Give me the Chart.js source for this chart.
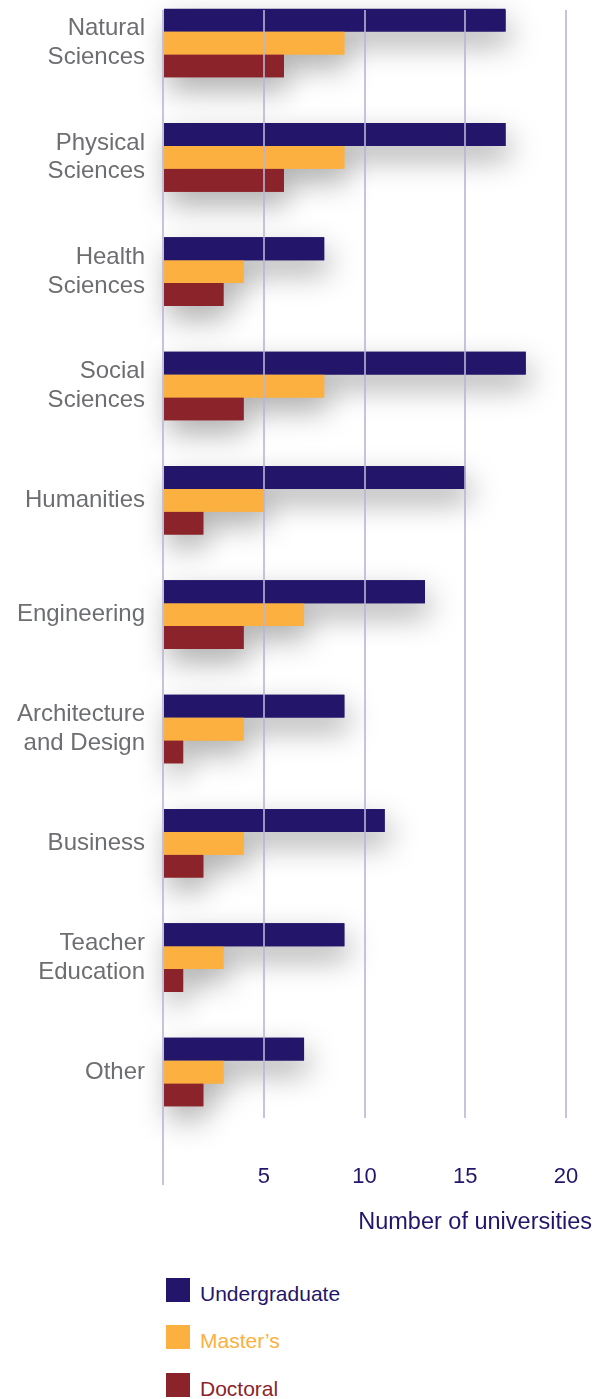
<!DOCTYPE html>
<html>
<head>
<meta charset="utf-8">
<script src="https://cdn.jsdelivr.net/npm/chart.js@4"></script>
<style>
  html, body { margin: 0; padding: 0; background: #ffffff; overflow: hidden; }
  body { width: 595px; height: 1399px; position: relative; font-family: "Liberation Sans", Arial, sans-serif; }
  #wrap { position: absolute; left: 0; top: 0; width: 595px; height: 1250px; }
  .lg { position: absolute; left: 166px; height: 24px; }
  .lg .box { position: absolute; left: 0; top: 0; width: 24px; height: 24px; }
  .lg .txt { position: absolute; left: 34px; top: 4px; font-size: 21px; line-height: 24px; white-space: nowrap; }
</style>
</head>
<body>
<div id="wrap"><canvas id="c"></canvas></div>
<div id="legend"></div>
<script>
// ---- data ----
const categories = [
  ["Natural", "Sciences"],
  ["Physical", "Sciences"],
  ["Health", "Sciences"],
  ["Social", "Sciences"],
  "Humanities",
  "Engineering",
  ["Architecture", "and Design"],
  "Business",
  ["Teacher", "Education"],
  "Other"
];
const seriesNames = ["Undergraduate", "Master\u2019s", "Doctoral"];
const undergraduate = [17, 17, 8, 18, 15, 13, 9, 11, 9, 7];
const masters       = [9, 9, 4, 8, 5, 7, 4, 4, 3, 3];
const doctoral      = [6, 6, 3, 4, 2, 4, 1, 2, 1, 2];
const xTickStep = 5;
const axisTitle = "Number of universities";

// ---- styles ----
const colors = ["#23166a", "#fbb040", "#8b242a"];
const gridColor = "rgba(185,180,212,0.8)";

const toPoints = arr => arr.map((v, i) => ({ x: v, y: i }));
const seriesValues = [undergraduate, masters, doctoral];

const shadowPlugin = {
  id: "barShadow",
  beforeDatasetsDraw(chart) {
    const ctx = chart.ctx;
    ctx.save();
    ctx.shadowColor = "rgba(0,0,0,0.34)";
    ctx.shadowBlur = 30;
    ctx.shadowOffsetX = 4;
    ctx.shadowOffsetY = 13;
    chart.getSortedVisibleDatasetMetas().forEach(meta => {
      meta.data.forEach(el => el.draw(ctx));
    });
    ctx.restore();
  }
};

new Chart(document.getElementById("c"), {
  type: "bar",
  data: {
    datasets: seriesValues.map((vals, k) => ({
      label: seriesNames[k],
      data: toPoints(vals),
      backgroundColor: colors[k],
      borderWidth: 0,
      categoryPercentage: 0.6,
      barPercentage: 1.0
    }))
  },
  options: {
    indexAxis: "y",
    responsive: true,
    maintainAspectRatio: false,
    animation: false,
    layout: { padding: { top: 10, right: 3, left: 0, bottom: 0 } },
    plugins: {
      legend: { display: false },
      tooltip: { enabled: false }
    },
    scales: {
      y: {
        type: "linear",
        reverse: true,
        offset: false,
        min: -0.2886,
        max: 9.4026,
        grid: { display: false, drawTicks: false, offset: false },
        border: { display: false },
        afterFit(scale) {
          scale.width = 163;
          scale.paddingTop = 0;
          scale.paddingBottom = 0;
        },
        ticks: {
          stepSize: 1,
          includeBounds: false,
          autoSkip: false,
          padding: 18,
          color: "#6d6e71",
          font: { family: "'Liberation Sans', Arial, sans-serif", size: 24, lineHeight: 1.2 },
          callback: v => (Number.isInteger(v) && categories[v] !== undefined) ? categories[v] : ""
        }
      },
      x: {
        type: "linear",
        min: 0,
        max: 21.29,
        border: { display: false },
        grid: {
          z: 1,
          color: gridColor,
          lineWidth: 2,
          drawTicks: true,
          tickLength: 67,
          tickWidth: 2,
          tickColor: ctx => (ctx.tick && ctx.tick.value === 0) ? gridColor : "rgba(0,0,0,0)"
        },
        afterFit(scale) {
          scale.height = 132;
          scale.paddingLeft = 0;
          scale.paddingRight = 0;
        },
        ticks: {
          stepSize: xTickStep,
          includeBounds: false,
          autoSkip: false,
          maxRotation: 0,
          padding: -21,
          color: "#23166a",
          font: { family: "'Liberation Sans', Arial, sans-serif", size: 22 },
          callback: v => v === 0 ? "" : String(v)
        },
        title: {
          display: true,
          text: axisTitle,
          align: "end",
          color: "#23166a",
          font: { family: "'Liberation Sans', Arial, sans-serif", size: 23.5, lineHeight: 1.2 },
          padding: { top: 0, bottom: 13 }
        }
      }
    }
  },
  plugins: [shadowPlugin]
});

// ---- HTML legend ----
const legendTops = [1278, 1325, 1373];
const legend = document.getElementById("legend");
seriesNames.forEach((name, k) => {
  const item = document.createElement("div");
  item.className = "lg";
  item.style.top = legendTops[k] + "px";
  const box = document.createElement("div");
  box.className = "box";
  box.style.background = colors[k];
  const txt = document.createElement("div");
  txt.className = "txt";
  txt.style.color = colors[k];
  txt.textContent = name;
  item.appendChild(box);
  item.appendChild(txt);
  legend.appendChild(item);
});
</script>
</body>
</html>
